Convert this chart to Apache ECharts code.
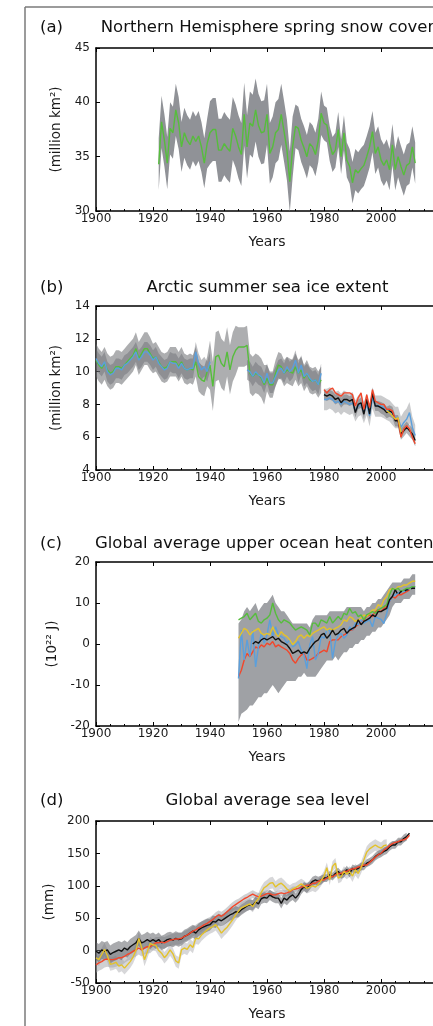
<!DOCTYPE html>
<html>
<head>
<meta charset="utf-8">
<script src="https://cdn.jsdelivr.net/npm/echarts@6/dist/echarts.min.js"></script>
<style>
  html, body { margin: 0; padding: 0; background: #fff; overflow: hidden; }
  #chart { width: 433px; height: 1026px; }
</style>
</head>
<body>
<div id="chart"></div>
<script>
// (a) spring snow cover, 1922-2012
const snowStart = 1922
const snowCover = [
  34.3, 38.2, 36.5, 34.4, 37.6, 37.2, 39.3, 38.1, 35.9, 37.2,
  36.5, 36.1, 36.9, 36.4, 36.9, 35.9, 34.4, 36.2, 37.2, 37.5,
  37.5, 35.6, 35.6, 36.2, 35.8, 35.5, 37.6, 36.9, 35.9, 35.2,
  38.9, 35.9, 38.1, 37.8, 39.3, 37.9, 37.2, 37.3, 38.9, 35.3,
  35.9, 37.2, 37.5, 38.9, 37.3, 35.6, 32.7, 35.9, 37.8, 37.6,
  36.5, 35.8, 35.0, 36.2, 35.9, 35.2, 36.5, 39.0, 38.1, 37.9,
  36.2, 35.2, 35.6, 37.5, 35.0, 37.2, 34.7, 34.1, 32.6, 33.8,
  33.5, 33.9, 34.2, 35.0, 35.9, 37.3, 35.3, 35.9, 34.7, 34.2,
  34.7, 33.8, 36.1, 33.8, 35.0, 34.1, 33.3, 34.2, 34.4, 35.9,
  34.4
]
// band half-width per decade, 1920s..2010s
const snowErr = [2.4, 2.3, 2.9, 2.9, 2.8, 2.0, 1.6, 1.9, 1.9, 1.9]

// (b) arctic summer sea ice
const iceGreen = [ // 1900-1979
  10.7, 10.4, 10.2, 10.5, 10.1, 9.9, 10.0, 10.3, 10.3, 10.2,
  10.4, 10.6, 10.8, 11.0, 11.4, 10.8, 11.1, 11.4, 11.4, 11.1,
  10.8, 10.9, 10.6, 10.3, 10.2, 10.3, 10.6, 10.6, 10.6, 10.3,
  10.6, 10.2, 10.1, 10.2, 10.1, 10.6, 9.7, 9.5, 9.4, 10.0,
  10.4, 9.1, 10.9, 11.0, 10.5, 10.3, 11.2, 10.1, 10.9, 11.3,
  11.5, 11.5, 11.5, 11.6, 9.9, 9.7, 9.9, 9.8, 9.6, 9.2,
  9.6, 9.2, 9.2, 9.9, 10.4, 10.3, 9.9, 10.1, 10.0, 9.9,
  10.3, 9.9, 10.1, 9.6, 9.9, 9.5, 9.4, 9.5, 9.2, 9.5
]
const iceBlueEarly = [ // 1900-1940
  10.8, 10.5, 10.3, 10.6, 10.0, 9.8, 9.9, 10.2, 10.2, 10.1,
  10.4, 10.5, 10.7, 10.9, 11.2, 10.7, 10.9, 11.2, 11.2, 11.0,
  10.7, 10.9, 10.5, 10.3, 10.1, 10.2, 10.6, 10.5, 10.5, 10.2,
  10.5, 10.2, 10.1, 10.2, 10.2, 11.2, 10.5, 10.1, 10.3, 10.0,
  10.6
]
const iceBlueMid = [ // 1953-1979
  10.1, 10.0, 9.7, 10.0, 9.8, 9.7, 9.3, 9.9, 9.3, 9.3,
  9.7, 10.1, 10.2, 9.9, 10.3, 10.0, 10.2, 10.7, 9.9, 10.4,
  9.7, 9.9, 9.6, 9.4, 9.5, 9.2, 9.9
]
const iceRed = [ // 1980-2012
  8.9, 8.7, 8.9, 9.0, 8.7, 8.6, 8.5, 8.7, 8.7, 8.7,
  8.6, 7.9, 8.4, 8.7, 7.7, 8.6, 7.8, 8.9, 8.2, 8.1,
  8.0, 8.0, 7.7, 7.7, 7.6, 7.1, 7.1, 6.0, 6.5, 6.7,
  6.5, 6.0, 5.6
]
const iceBlack = [ // 1980-2012
  8.6, 8.5, 8.6, 8.5, 8.3, 8.4, 8.1, 8.3, 8.3, 8.2,
  8.3, 7.5, 8.0, 8.1, 7.4, 8.3, 7.4, 8.7, 7.9, 7.9,
  7.8, 7.7, 7.5, 7.6, 7.5, 7.0, 7.0, 6.2, 6.4, 6.6,
  6.4, 6.2, 5.8
]
const iceBlueLate = [ // 1980-2012
  8.3, 8.3, 8.4, 8.3, 8.1, 8.2, 8.0, 8.2, 8.1, 8.0,
  8.1, 7.6, 7.9, 8.0, 7.5, 8.0, 7.3, 8.4, 7.9, 7.9,
  7.9, 7.8, 7.7, 7.6, 7.4, 7.2, 7.2, 6.6, 6.9, 7.1,
  7.5, 6.6, 6.1
]
const iceYellow = [7.6, 7.5, 7.3, 7.1, 7.2, 6.3] // 2002-2007
const iceGreenErr = [1.0, 1.0, 0.9, 0.9, 1.5, 1.2, 0.8, 0.8] // 1900s..1970s
const iceBlueErr = [0.6, 0.6, 0.6, 0.6, 0.6, 0.6, 0.6, 0.6]
const iceBlackErr = [0.3, 0.3, 0.35, 0.35] // 1980s..2010s
const iceBlueLateErr = [0.65, 0.65, 0.65, 0.65]

// (c) upper ocean heat content, 1950-2012
const ohcGreen = [
  5.9, 6.3, 6.7, 7.5, 5.9, 6.7, 7.5, 5.5, 5.1, 5.9,
  6.3, 7.1, 10.0, 7.5, 5.9, 5.1, 5.9, 5.5, 5.1, 4.2,
  3.4, 3.8, 4.2, 3.8, 3.4, 2.2, 5.1, 5.1, 4.2, 5.9,
  5.5, 5.1, 6.7, 5.1, 5.9, 6.7, 5.9, 7.5, 7.1, 8.7,
  7.5, 7.9, 6.7, 7.1, 5.9, 7.1, 7.5, 7.9, 7.5, 8.3,
  8.7, 9.1, 9.6, 12.0, 13.6, 13.2, 13.6, 12.8, 13.2, 13.6,
  13.6, 14.0, 14.0
]
const ohcYellow = [
  1.4, 2.6, 3.8, 3.4, 2.2, 3.0, 3.4, 3.8, 2.6, 2.2,
  2.6, 2.2, 4.2, 2.6, 1.8, 3.0, 2.2, 1.8, 1.0, -0.2,
  0.6, 1.8, 2.2, 1.4, 2.2, 1.8, 2.6, 3.0, 3.4, 3.8,
  4.2, 3.4, 3.8, 3.4, 3.8, 4.2, 4.7, 5.9, 5.5, 6.7,
  6.3, 5.5, 5.9, 6.3, 7.1, 6.7, 7.5, 8.3, 8.3, 9.6,
  9.1, 10.8, 11.6, 13.2, 13.6, 13.2, 14.0, 14.0, 14.4, 14.4,
  14.9, 15.3, 15.3
]
const ohcBlue = [
  -8.4, 3.4, -3.9, 1.0, -3.1, 3.4, -5.6, -0.7, 2.6, 0.2,
  2.2, 5.9, 1.8, 4.2, 2.2, 1.8, 1.4, 0.2, 1.0, -0.7,
  -0.2, 0.6, -1.5, -2.7, -6.0, -0.2, 1.8, -3.9, -2.3, 1.8,
  1.4, 3.4, 3.4, -3.5, 0.6, 2.2, 2.6, 1.4, 2.2, 4.2,
  3.4, 5.1, 4.7, 5.9, 5.1, 5.5, 5.9, 4.2, 6.7, 6.3,
  6.0, 5.0, 7.5, 10.4, 11.6, 12.0, 12.4, 12.8, 12.8, 13.2,
  13.6, 14.0, 14.0
]
const ohcRed = [ // 1950-2010
  -8.0, -6.4, -3.9, -2.3, -3.1, -1.9, -0.7, -1.1, -0.2, -0.7,
  0.2, -0.2, 0.6, -0.7, -0.2, -0.7, -1.1, -1.5, -2.3, -3.9,
  -4.7, -3.5, -2.7, -2.3, -3.9, -3.9, -3.5, -3.1, -2.3, -1.9,
  -1.5, -1.9, 0.6, 1.0, 1.0, 1.0, 1.8, 2.2, 2.6, 3.4,
  3.4, 4.2, 4.7, 5.5, 5.9, 6.7, 7.1, 6.7, 7.9, 8.3,
  7.9, 8.7, 9.1, 10.4, 11.6, 11.2, 12.0, 12.0, 12.4, 12.8,
  13.2
]
const ohcBlack = [ // 1955-2012, dashed from 2005
  0.0, 0.6, 0.2, 1.0, 1.4,
  1.0, 1.4, 1.8, 1.0, 1.4, 0.6, 0.2, -0.2, -1.1, -2.3,
  -1.9, -1.5, -2.3, -1.9, -2.3, -1.1, -0.2, 0.6, 1.0, 2.2,
  2.6, 1.4, 2.2, 3.4, 2.2, 2.6, 3.4, 3.8, 2.6, 3.4,
  3.8, 4.2, 5.9, 4.7, 5.5, 5.9, 6.3, 7.1, 6.7, 7.9,
  7.9, 8.3, 8.7, 10.8, 11.6, 13.2, 12.0, 12.8, 12.8, 13.2,
  13.2, 13.6, 13.6
]
const ohcLo = [
  -19, -17, -16.5, -16, -15, -15, -14, -13, -13, -12,
  -12, -11, -10, -11, -12, -11, -10, -9, -9, -9,
  -9, -8, -8, -7, -8, -8, -8, -8, -7, -6,
  -5, -4, -4, -4, -3, -4, -3, -2, -2, -1,
  -1, 0, 0, 1, 1, 2, 2, 3, 3, 4,
  4, 5, 6, 7, 9, 10, 10, 10, 11, 11,
  11, 12, 12
]
const ohcHi = [
  5, 6, 8, 9, 8, 9, 10, 8, 9, 10,
  10, 11, 12, 10, 9, 8, 8, 7, 6, 5,
  5, 5, 5, 5, 5, 4, 6, 7, 7, 7,
  7, 7, 8, 8, 8, 8, 8, 8, 9, 9,
  9, 9, 9, 9, 8, 9, 9, 10, 10, 11,
  11, 12, 13, 14, 15, 15, 15, 15, 16, 16,
  16, 17, 17
]

// (d) global mean sea level
const slBlack = [ // 1900-2010
  -1, -4, 1, -1, 1, -6, -3, -1, 1, -1,
  4, 1, 6, 9, 12, 19, 12, 14, 17, 14,
  17, 14, 17, 12, 14, 17, 18, 16, 19, 17,
  18, 22, 24, 27, 30, 27, 32, 35, 37, 39,
  40, 45, 44, 48, 46, 49, 52, 55, 57, 60,
  59, 63, 66, 69, 71, 70, 75, 72, 80, 82,
  81, 86, 83, 81, 81, 73, 81, 78, 83, 86,
  81, 86, 94, 99, 96, 101, 107, 109, 107, 109,
  112, 112, 117, 114, 119, 122, 117, 119, 125, 119,
  127, 125, 127, 130, 130, 135, 137, 140, 145, 148,
  150, 153, 155, 160, 163, 163, 168, 168, 173, 176,
  181
]
const slRed = [ // 1900-2010
  -22, -19, -17, -14, -13, -14, -14, -13, -11, -11,
  -9, -6, -4, -1, 1, 4, 1, 4, 6, 6,
  9, 12, 12, 13, 12, 14, 16, 17, 18, 18,
  19, 22, 24, 27, 30, 32, 35, 37, 40, 42,
  45, 48, 52, 55, 53, 56, 60, 64, 68, 71,
  74, 77, 80, 82, 85, 87, 85, 83, 84, 86,
  88, 88, 86, 86, 88, 89, 88, 89, 91, 94,
  95, 96, 98, 99, 101, 101, 104, 104, 107, 109,
  109, 112, 114, 114, 117, 119, 119, 122, 122, 125,
  126, 127, 129, 130, 132, 132, 136, 140, 144, 148,
  150, 155, 158, 162, 165, 167, 168, 170, 171, 173,
  178
]
const slYellow = [ // 1900-2002
  -11, -14, -6, 2, -8, -21, -20, -18, -24, -22,
  -27, -22, -17, -10, 0, 19, 5, -14, -2, 11,
  9, 8, 0, -4, -11, -6, 1, -5, -16, -19,
  1, 4, 2, 9, 5, 19, 18, 24, 28, 32,
  35, 37, 40, 34, 27, 32, 36, 42, 48, 55,
  61, 66, 68, 70, 72, 68, 75, 80, 90, 97,
  100, 104, 105, 98, 102, 104, 100, 95, 92, 95,
  97, 100, 103, 100, 96, 98, 100, 98, 102, 108,
  115, 128, 109, 130, 135, 112, 114, 122, 118, 122,
  115, 125, 119, 128, 140, 152, 157, 160, 163, 160,
  158, 162, 163
]
const slBlackErr = [14, 12, 11, 10, 9, 8, 8, 7, 6, 6, 6] // 1900s..2010s
const slRedErr = [12, 10, 9, 8, 7, 6, 5, 4, 3, 3, 3]
const slYellowErr = [10, 10, 9, 9, 9, 9, 9, 8, 8, 9, 9]

const FONT = 'DejaVu Sans'
const GREEN = '#56bd3c'
const BLUE = '#5b9fdc'
const RED = '#f2472b'
const YELLOW = '#e3c22b'
const BLACK = '#111111'

const panels = [
  { top: 48, height: 163, min: 30, max: 45, step: 5, unit: '(million km²)', gap: 27, tag: '(a)', title: 'Northern Hemisphere spring snow cover', ty: 27.3 },
  { top: 306, height: 164, min: 4, max: 14, step: 2, unit: '(million km²)', gap: 27, tag: '(b)', title: 'Arctic summer sea ice extent', ty: 287.3 },
  { top: 562, height: 164, min: -20, max: 20, step: 10, unit: '(10²² J)', gap: 27, tag: '(c)', title: 'Global average upper ocean heat content', ty: 543.3 },
  { top: 821, height: 162, min: -50, max: 200, step: 50, unit: '(mm)', gap: 37, tag: '(d)', title: 'Global average sea level', ty: 800.7 }
]

const pts = (start, vals) => vals.map((v, i) => [start + i, v])
const series = []

function addLine (gi, start, vals, color, extra) {
  series.push(Object.assign({
    type: 'line',
    xAxisIndex: gi * 2,
    yAxisIndex: gi,
    data: pts(start, vals),
    symbol: 'none',
    silent: true,
    z: 3,
    lineStyle: { color, width: 1.4 },
    itemStyle: { color }
  }, extra))
}

// one polygon per band, corners taken from the axis scales
function bandShape (params, api) {
  if (params.dataIndexInside !== 0) return
  const top = []
  const bot = []
  for (let i = 0; i < params.dataInsideLength; i++) {
    const x = api.value(0, i)
    top.push(api.coord([x, api.value(2, i)]))
    bot.push(api.coord([x, api.value(1, i)]))
  }
  return {
    type: 'polygon',
    shape: { points: top.concat(bot.reverse()) },
    style: { fill: api.visual('color') }
  }
}

function addBand (gi, start, lo, hi, fill) {
  series.push({
    type: 'custom',
    xAxisIndex: gi * 2,
    yAxisIndex: gi,
    silent: true,
    clip: true,
    z: 1,
    itemStyle: { color: fill },
    encode: { x: 0, y: [1, 2] },
    data: lo.map((v, i) => [start + i, v, hi[i]]),
    renderItem: bandShape
  })
}

// band round a line, half-width read per decade
function addErrBand (gi, start, vals, err, decade0, fill) {
  const e = vals.map((v, i) => err[Math.floor((start + i - decade0) / 10)])
  addBand(gi, start, vals.map((v, i) => v - e[i]), vals.map((v, i) => v + e[i]), fill)
}

// (a)
addErrBand(0, snowStart, snowCover, snowErr, 1920, '#909297')
addLine(0, snowStart, snowCover, GREEN)

// (b)
addErrBand(1, 1900, iceGreen, iceGreenErr, 1900, 'rgba(105,107,112,0.55)')
addErrBand(1, 1900, iceBlueEarly, iceBlueErr, 1900, 'rgba(105,107,112,0.45)')
addErrBand(1, 1953, iceBlueMid, iceBlueErr, 1900, 'rgba(105,107,112,0.45)')
addErrBand(1, 1980, iceBlueLate, iceBlueLateErr, 1980, 'rgba(150,152,156,0.5)')
addErrBand(1, 1980, iceBlack, iceBlackErr, 1980, 'rgba(105,107,112,0.5)')
addLine(1, 1900, iceGreen, GREEN)
addLine(1, 1900, iceBlueEarly, BLUE)
addLine(1, 1953, iceBlueMid, BLUE)
addLine(1, 1980, iceBlueLate, BLUE)
addLine(1, 1980, iceBlack, BLACK)
addLine(1, 1980, iceRed, RED)
addLine(1, 2002, iceYellow, YELLOW)

// (c)
addBand(2, 1950, ohcLo, ohcHi, '#9fa1a5')
addLine(2, 1950, ohcRed, RED)
addLine(2, 1950, ohcBlue, BLUE)
addLine(2, 1950, ohcYellow, YELLOW)
addLine(2, 1950, ohcGreen, GREEN)
addLine(2, 1955, ohcBlack.slice(0, 51), BLACK)
addLine(2, 2005, ohcBlack.slice(50), BLACK, { lineStyle: { color: BLACK, width: 1.4, type: [4, 3] } })

// (d)
addErrBand(3, 1900, slYellow, slYellowErr, 1900, 'rgba(175,176,180,0.5)')
addErrBand(3, 1900, slRed, slRedErr, 1900, 'rgba(160,162,166,0.5)')
addErrBand(3, 1900, slBlack, slBlackErr, 1900, 'rgba(100,102,107,0.55)')
addLine(3, 1900, slBlack, BLACK)
addLine(3, 1900, slRed, RED)
addLine(3, 1900, slYellow, YELLOW)

const axisLine = { show: true, onZero: false, lineStyle: { color: '#000', width: 1.5 } }
const tick = { show: true, inside: true, length: 4, lineStyle: { color: '#000', width: 1 } }
const labelStyle = { fontFamily: FONT, fontSize: 12, color: '#1a1a1a', formatter: v => String(v) }

const grids = panels.map(p => ({
  left: 96, right: -5, top: p.top, height: p.height,
  outerBoundsMode: 'none', containLabel: false
}))

const xAxes = []
panels.forEach((p, gi) => {
  xAxes.push({
    type: 'value', gridIndex: gi, position: 'bottom',
    min: 1900, max: 2020, interval: 20,
    name: 'Years', nameLocation: 'middle', nameGap: 24,
    nameTextStyle: { fontFamily: FONT, fontSize: 14, color: '#1a1a1a' },
    axisLine,
    axisTick: tick,
    minorTick: { show: true, splitNumber: 4, length: 2, lineStyle: { color: '#000', width: 1 } },
    axisLabel: Object.assign({ margin: 2, showMaxLabel: false }, labelStyle),
    splitLine: { show: false },
    minorSplitLine: { show: false }
  })
  xAxes.push({
    type: 'value', gridIndex: gi, position: 'top',
    min: 1900, max: 2020, interval: 20,
    axisLine,
    axisTick: tick,
    axisLabel: { show: false },
    splitLine: { show: false }
  })
})

const yAxes = panels.map((p, gi) => ({
  type: 'value', gridIndex: gi,
  min: p.min, max: p.max, interval: p.step,
  name: p.unit, nameLocation: 'middle', nameRotate: 90, nameGap: p.gap,
  nameTextStyle: { fontFamily: FONT, fontSize: 13.5, color: '#1a1a1a' },
  axisLine,
  axisTick: tick,
  axisLabel: Object.assign({ margin: 6 }, labelStyle),
  splitLine: { show: false }
}))

const titles = []
panels.forEach(p => {
  const textStyle = { fontFamily: FONT, fontSize: 16.5, fontWeight: 'normal', color: '#111' }
  titles.push({ text: p.tag, left: 40, top: p.ty, padding: 0, textAlign: 'left', textVerticalAlign: 'middle', textStyle })
  titles.push({ text: p.title, left: 267.5, top: p.ty, padding: 0, textAlign: 'center', textVerticalAlign: 'middle', textStyle })
})

const chart = echarts.init(document.getElementById('chart'))
chart.setOption({
  animation: false,
  backgroundColor: '#fff',
  title: titles,
  grid: grids,
  xAxis: xAxes,
  yAxis: yAxes,
  graphic: [
    { type: 'line', silent: true, shape: { x1: 25, y1: 7, x2: 433, y2: 7 }, style: { stroke: '#7a7a7a', lineWidth: 1.5 } },
    { type: 'line', silent: true, shape: { x1: 25, y1: 7, x2: 25, y2: 1026 }, style: { stroke: '#7a7a7a', lineWidth: 1.5 } }
  ],
  series
})
</script>
</body>
</html>
